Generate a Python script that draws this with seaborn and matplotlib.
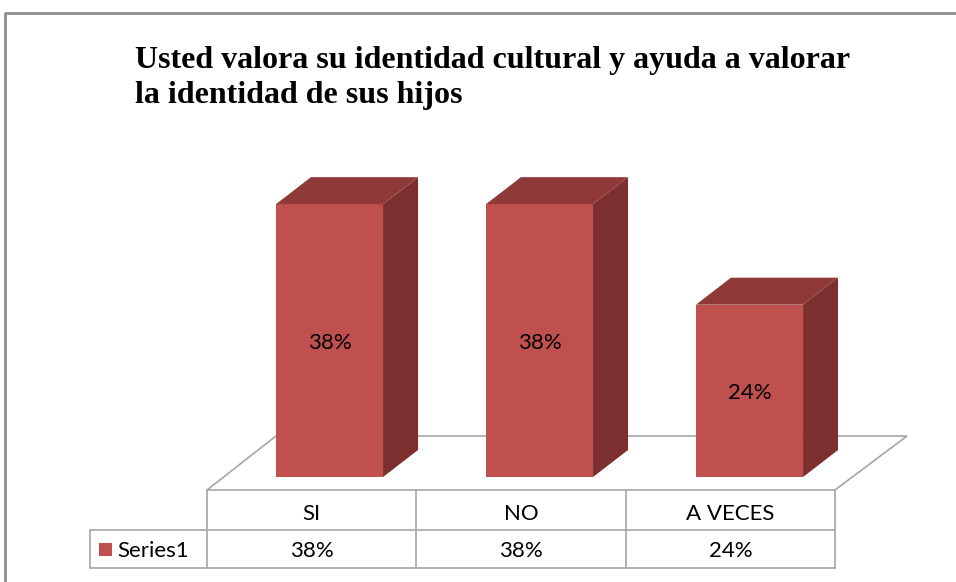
import numpy as np
import pandas as pd
import matplotlib.pyplot as plt
import seaborn as sns
from matplotlib.patches import Polygon

# data
categorias = ['SI', 'NO', 'A VECES']
valores = [38, 38, 24]
serie = 'Series1'
titulo = 'Usted valora su identidad cultural y ayuda a valorar\nla identidad de sus hijos'

sns.set_theme(style='white')
plt.rcParams['font.family'] = ['Lato', 'DejaVu Sans']
plt.rcParams['text.color'] = 'black'

W, H = 956, 582
frente = '#C0504D'
lado = '#7B2F2E'
tapa = '#8F3A39'
gris = '#A6A6A6'

fig = plt.figure(figsize=(W / 100, H / 100), dpi=100)
ax = fig.add_axes([0, 0, 1, 1])

df = pd.DataFrame({'cat': categorias, 'val': valores})
sns.barplot(data=df, x='cat', y='val', color=frente, width=0.51,
            saturation=1, linewidth=0, ax=ax, zorder=2)

# escala: categoria 0 en px 329.5, 210 px por categoria; valor 0 en px 477, 7.18 px por %
ax.set_xlim((0 - 329.5) / 210, (W - 329.5) / 210)
ax.set_ylim(-(H - 477) / 7.18, 477 / 7.18)
ax.axis('off')

def fpx(x, y):
    return (x / W, 1 - y / H)

# piso
piso = Polygon([fpx(207, 490), fpx(835, 490), fpx(907, 436), fpx(276, 436)],
               closed=True, facecolor='white', edgecolor=gris, lw=1.2,
               transform=fig.transFigure, zorder=0)
ax.add_patch(piso)

# caras 3D de cada barra
dx = 35 / 210
dy = 27 / 7.18
for p, v in zip(list(ax.patches)[:len(valores)], valores):
    p.set_edgecolor('none')
    x0, w, h = p.get_x(), p.get_width(), p.get_height()
    ax.add_patch(Polygon([(x0 + w, 0), (x0 + w + dx, dy), (x0 + w + dx, h + dy), (x0 + w, h)],
                         facecolor=lado, edgecolor='none', zorder=2))
    ax.add_patch(Polygon([(x0, h), (x0 + w, h), (x0 + w + dx, h + dy), (x0 + dx, h + dy)],
                         facecolor=tapa, edgecolor='none', zorder=2))
    ax.text(x0 + w / 2, h / 2 - 0.3, f'{v}%', ha='center', va='center',
            fontsize=16, color='black', zorder=3)

# tabla de datos
def linea(xs, ys):
    ax.plot([x / W for x in xs], [1 - y / H for y in ys], color=gris, lw=1.2,
            transform=fig.transFigure, clip_on=False, zorder=1)

cols = [207, 416, 626, 835]
for c in cols:
    linea([c, c], [490, 568])
linea([207, 835], [530, 530])
linea([90, 835], [568, 568])
linea([90, 207], [530, 530])
linea([90, 90], [530, 568])

for i, (c, v) in enumerate(zip(categorias, valores)):
    xc = (cols[i] + cols[i + 1]) / 2
    ax.text(*fpx(xc, 514), c, transform=fig.transFigure, ha='center', va='center', fontsize=16)
    ax.text(*fpx(xc, 551), f'{v}%', transform=fig.transFigure, ha='center', va='center', fontsize=16)

ax.add_patch(plt.Rectangle(fpx(99, 556), 13 / W, 13 / H, facecolor=frente,
                           edgecolor='none', transform=fig.transFigure, clip_on=False))
ax.text(*fpx(117, 551), serie, transform=fig.transFigure, ha='left', va='center', fontsize=16)

# borde del grafico
ax.plot([5 / W, 5 / W, 1], [0, 1 - 13 / H, 1 - 13 / H], color='#8C8C8C', lw=2,
        transform=fig.transFigure, clip_on=False)

fig.text(135 / W, 1 - 68 / H, titulo.split('\n')[0], ha='left', va='baseline', fontsize=23,
         fontweight='bold', family='Liberation Serif', color='black')
fig.text(135 / W, 1 - 103 / H, titulo.split('\n')[1], ha='left', va='baseline', fontsize=23,
         fontweight='bold', family='Liberation Serif', color='black')

fig.savefig('out.png', dpi=100)
